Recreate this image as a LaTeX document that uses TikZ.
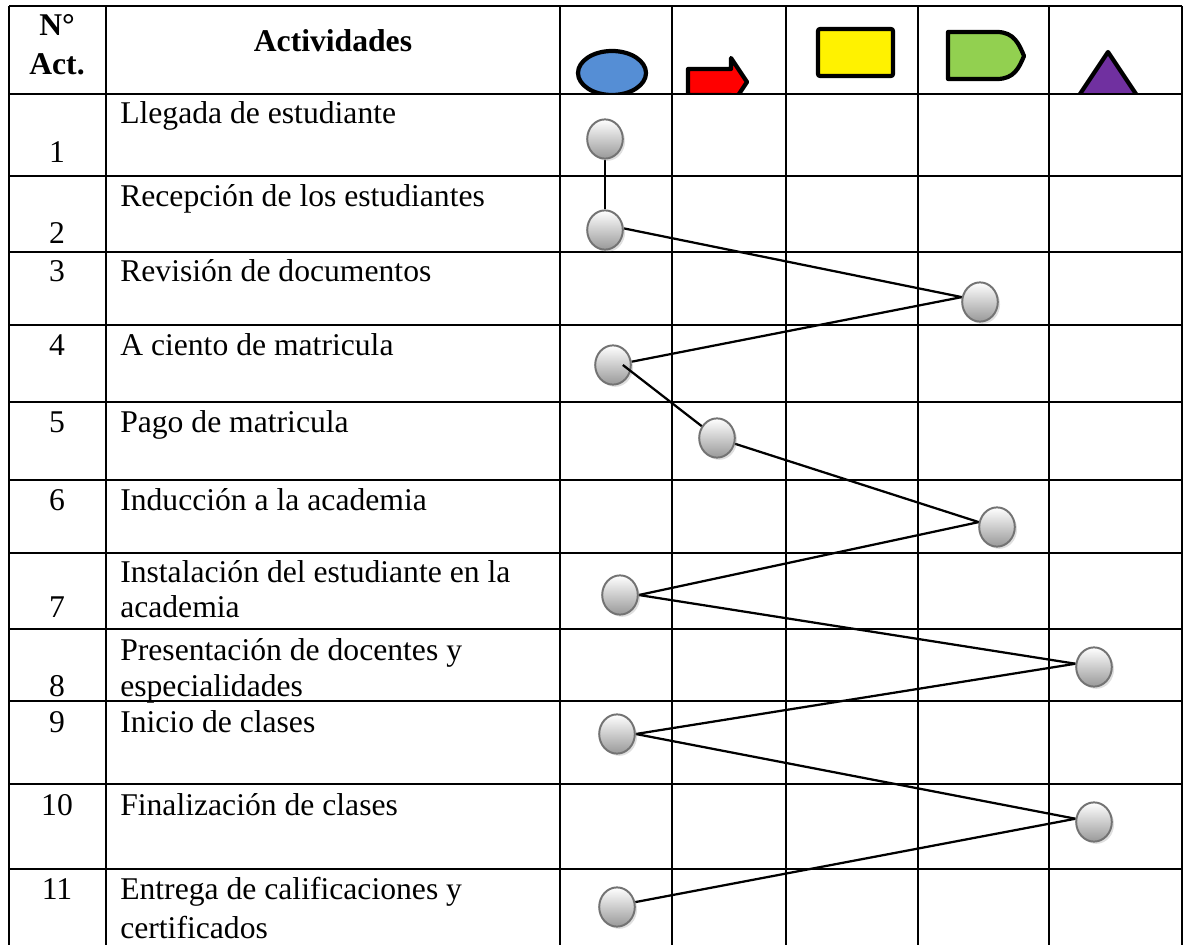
\documentclass[tikz,border=0pt]{standalone}
\usepackage{fontspec}
\setmainfont{Liberation Serif}
\usetikzlibrary{shapes.geometric,shadows,backgrounds}
\definecolor{azulic}{HTML}{558ED5}
\definecolor{verdeic}{HTML}{92D050}
\definecolor{moradoic}{HTML}{7030A0}

\begin{document}
\begin{tikzpicture}[x=0.025cm,y=-0.025cm,
  rejilla/.style={line width=1.6pt},
  texto/.style={anchor=base west,inner sep=0pt,font=\fontsize{22.5}{27}\selectfont},
  numero/.style={anchor=base,inner sep=0pt,font=\fontsize{22.5}{27}\selectfont},
  marca/.style={ellipse,minimum width=0.89cm,minimum height=0.98cm,inner sep=0pt,draw=black!55,line width=1.4pt,top color=white,bottom color=black!40,drop shadow={shadow xshift=1.6pt,shadow yshift=-1.6pt,opacity=0.25}},
  enlace/.style={line width=1.6pt},
  icono/.style={draw=black,line width=3pt,line join=round}]
\useasboundingbox (0,0) rectangle (1185,945);

\begin{scope}[on background layer]
% simbolos de la cabecera
\begin{scope}
\clip (560,6) rectangle (1182,94);
\draw[icono,fill=azulic] (612,73) ellipse [x radius=34,y radius=22];
\draw[icono,fill=red] (688,69) -- (731,69) -- (731,58) -- (747,82) -- (731,106) -- (731,95) -- (688,95) -- cycle;
\draw[icono,fill=yellow,rounded corners=1.5pt] (818,29) rectangle (893,76);
\draw[icono,fill=verdeic] (948,32) -- (997,32) .. controls (1014,32) and (1019,44) .. (1024,56) .. controls (1019,68) and (1014,79) .. (997,79) -- (948,79) -- cycle;
\draw[icono,fill=moradoic] (1108,52) -- (1140,100) -- (1076,100) -- cycle;
\end{scope}
% tabla
\draw[rejilla] (9,6) -- (1182,6) (9,94) -- (1182,94) (9,176) -- (1182,176) (9,252) -- (1182,252);
\draw[rejilla] (9,325) -- (1182,325) (9,402) -- (1182,402) (9,480) -- (1182,480) (9,553) -- (1182,553);
\draw[rejilla] (9,629) -- (1182,629) (9,701) -- (1182,701) (9,784) -- (1182,784) (9,869) -- (1182,869);
\draw[rejilla] (9,6) -- (9,945) (106,6) -- (106,945) (560,6) -- (560,945) (672,6) -- (672,945);
\draw[rejilla] (786,6) -- (786,945) (918,6) -- (918,945) (1049,6) -- (1049,945) (1182,6) -- (1182,945);
\end{scope}

% cabecera
\node(hN)[numero,font=\fontsize{22.5}{27}\selectfont\bfseries] at (57,36) {N°};
\node(hAct)[numero,font=\fontsize{22.5}{27}\selectfont\bfseries] at (57,75) {Act.};
\node(hActiv)[numero,font=\fontsize{22.5}{27}\selectfont\bfseries] at (333,52) {Actividades};

% numeros
\node(num1)[numero] at (57,163) {1};
\node(num2)[numero] at (57,244) {2};
\node(num3)[numero] at (57,282) {3};
\node(num4)[numero] at (57,356) {4};
\node(num5)[numero] at (57,432) {5};
\node(num6)[numero] at (57,510) {6};
\node(num7)[numero] at (57,617) {7};
\node(num8)[numero] at (57,696) {8};
\node(num9)[numero] at (57,732) {9};
\node(num10)[numero] at (57,815) {10};
\node(num11)[numero] at (57,899) {11};

% actividades
\node(act1)[texto] at (120,124) {Llegada de estudiante};
\node(act2)[texto] at (120,207) {Recepción de los estudiantes};
\node(act3)[texto] at (120,282) {Revisión de documentos};
\node(act4)[texto] at (120,356) {A ciento de matricula};
\node(act5)[texto] at (120,432) {Pago de matricula};
\node(act6)[texto] at (120,510) {Inducción a la academia};
\node(act7a)[texto] at (120,582) {Instalación del estudiante en la};
\node(act7b)[texto] at (120,617) {academia};
\node(act8a)[texto] at (120,660) {Presentación de docentes y};
\node(act8b)[texto] at (120,696) {especialidades};
\node(act9)[texto] at (120,732) {Inicio de clases};
\node(act10)[texto] at (120,815) {Finalización de clases};
\node(act11a)[texto] at (120,899) {Entrega de calificaciones y};
\node(act11b)[texto] at (120,938) {certificados};

% recorrido
\node(n1)[marca] at (605,139) {};
\node(n2)[marca] at (605,230) {};
\node(n3)[marca] at (980,302) {};
\node(n4)[marca] at (613,365) {};
\node(n5)[marca] at (717,438) {};
\node(n6)[marca] at (997,527) {};
\node(n7)[marca] at (620,595) {};
\node(n8)[marca] at (1094,667) {};
\node(n9)[marca] at (617,734) {};
\node(n10)[marca] at (1094,822) {};
\node(n11)[marca] at (617,907) {};

\begin{scope}[on background layer]
\draw [enlace] (n1) to (n2);
\draw [enlace] (n2.5) to (n3.165);
\draw [enlace] (n3.165) to (n4.10);
\draw [enlace] (n5) to (n6.165);
\draw [enlace] (n6.165) to (n7.east);
\draw [enlace] (n7.east) to (n8.170);
\draw [enlace] (n8.170) to (n9.east);
\draw [enlace] (n9.east) to (n10.170);
\draw [enlace] (n10.170) to (n11.15);
\end{scope}
\draw [enlace] ([xshift=7pt]n4.center) to (n5);
\end{tikzpicture}
\end{document}
